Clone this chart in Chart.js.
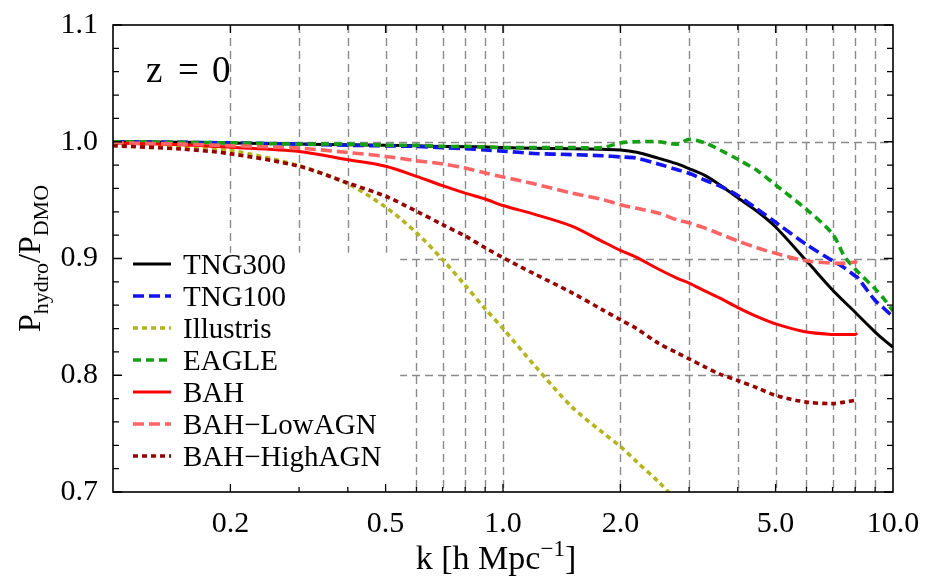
<!DOCTYPE html>
<html>
<head>
<meta charset="utf-8">
<script src="https://cdn.jsdelivr.net/npm/chart.js@4.4.0/dist/chart.umd.min.js"></script>
<style>
  html, body { margin: 0; padding: 0; background: #fff; }
  #wrap { position: relative; width: 926px; height: 583px; }
</style>
</head>
<body>
<div id="wrap"><canvas id="powerRatio"></canvas></div>
<script>
// k sampling [h/Mpc] shared by all curves
const kValues = [0.1, 0.15, 0.2, 0.3, 0.4, 0.5, 0.6, 0.7, 0.8, 0.9, 1.0, 1.2, 1.5, 1.8, 2.0, 2.2, 2.5, 2.8, 3.0, 3.3, 3.6, 4.0, 4.5, 5.0, 6.0, 7.0, 7.5, 8.0, 8.1, 9.0, 9.5, 10];

// P_hydro / P_DMO
const tng300    = [1.000, 0.9995, 0.999, 0.998, 0.9975, 0.997, 0.9965, 0.996, 0.9958, 0.9955, 0.995, 0.9945, 0.994, 0.9935, 0.993, 0.991, 0.986, 0.981, 0.977, 0.971, 0.963, 0.952, 0.940, 0.927, 0.898, 0.873, 0.863, 0.854, 0.852, 0.837, 0.830, 0.824];
const tng100    = [1.000, 0.9995, 0.999, 0.998, 0.997, 0.9965, 0.996, 0.995, 0.994, 0.993, 0.992, 0.990, 0.989, 0.988, 0.987, 0.986, 0.981, 0.976, 0.973, 0.967, 0.962, 0.954, 0.942, 0.931, 0.912, 0.898, 0.892, 0.885, 0.884, 0.864, 0.857, 0.850];
const illustris = [0.9975, 0.996, 0.9925, 0.9795, 0.964, 0.944, 0.922, 0.899, 0.877, 0.857, 0.840, 0.809, 0.773, 0.751, 0.739, 0.726, 0.709, 0.692, null, null, null, null, null, null, null, null, null, null, null, null, null, null];
const eagle     = [1.000, 0.9995, 0.999, 0.998, 0.998, 0.997, 0.997, 0.996, 0.996, 0.9955, 0.995, 0.995, 0.995, 0.995, 0.999, 1.000, 1.000, 0.998, 1.002, 0.999, 0.993, 0.985, 0.975, 0.963, 0.942, 0.921, 0.902, 0.891, 0.889, 0.874, 0.865, 0.855];
const bah       = [0.999, 0.9975, 0.9953, 0.9917, 0.9846, 0.979, 0.9704, 0.9624, 0.956, 0.951, 0.9454, 0.938, 0.9277, 0.9145, 0.907, 0.901, 0.891, 0.883, 0.879, 0.872, 0.866, 0.858, 0.850, 0.844, 0.837, 0.835, 0.835, 0.835, 0.836, null, null, null];
const bahLow    = [0.999, 0.998, 0.9966, 0.9945, 0.9908, 0.9874, 0.9838, 0.981, 0.9775, 0.9732, 0.9698, 0.964, 0.956, 0.9505, 0.946, 0.943, 0.939, 0.933, 0.9305, 0.926, 0.921, 0.915, 0.909, 0.9044, 0.898, 0.896, 0.896, 0.897, 0.897, null, null, null];
const bahHigh   = [0.9966, 0.9937, 0.9897, 0.979, 0.9647, 0.9533, 0.9405, 0.929, 0.9192, 0.9092, 0.9007, 0.887, 0.8708, 0.856, 0.8475, 0.840, 0.8275, 0.819, 0.814, 0.807, 0.801, 0.7955, 0.789, 0.7827, 0.777, 0.7757, 0.777, 0.7785, 0.779, null, null, null];

const seriesNames = ['TNG300', 'TNG100', 'Illustris', 'EAGLE', 'BAH', 'BAH\u2212LowAGN', 'BAH\u2212HighAGN'];
const seriesValues = [tng300, tng100, illustris, eagle, bah, bahLow, bahHigh];
const seriesColors = ['#000000', '#1414f0', '#b4b41e', '#14a014', '#ff0000', '#ff6464', '#960000'];
const seriesDash = [[], [11, 5], [5, 4], [8, 5], [], [11, 5], [5, 4]];

// axis ticks and grid
const xLabelled = [0.2, 0.5, 1, 2, 5, 10];
const xMinor = [0.2, 0.3, 0.4, 0.5, 0.6, 0.7, 0.8, 0.9, 1, 2, 3, 4, 5, 6, 7, 8, 9];
const yLabelled = [0.7, 0.8, 0.9, 1.0, 1.1];
const yMinor = [0.72, 0.74, 0.76, 0.78, 0.82, 0.84, 0.86, 0.88, 0.92, 0.94, 0.96, 0.98, 1.02, 1.04, 1.06, 1.08];
const gridK = [0.2, 0.3, 0.4, 0.5, 0.6, 0.7, 0.8, 0.9, 1, 2, 3, 4, 5, 6, 7, 8, 9];
const gridY = [0.8, 0.9, 1.0];
const legendCorner = { k: 0.545, v: 0.905 }; // grid lines stay out of the legend region

const serif = "'Liberation Serif', 'Times New Roman', serif";

const framePlugin = {
  id: 'frame',
  beforeDatasetsDraw(chart) {
    const { ctx, chartArea: a, scales: { x, y } } = chart;
    ctx.save();
    ctx.beginPath();
    ctx.rect(a.left, a.top, a.width, a.height);
    const lx = x.getPixelForValue(legendCorner.k);
    const ly = y.getPixelForValue(legendCorner.v);
    ctx.rect(a.left, ly, lx - a.left, a.bottom - ly);
    ctx.clip('evenodd');
    ctx.strokeStyle = '#8a8a8a';
    ctx.lineWidth = 1.4;
    ctx.setLineDash([8, 5]);
    gridK.forEach(k => {
      const px = Math.round(x.getPixelForValue(k)) + 0.5;
      ctx.beginPath(); ctx.moveTo(px, a.top); ctx.lineTo(px, a.bottom); ctx.stroke();
    });
    gridY.forEach(v => {
      const py = Math.round(y.getPixelForValue(v)) + 0.5;
      ctx.beginPath(); ctx.moveTo(a.left, py); ctx.lineTo(a.right, py); ctx.stroke();
    });
    ctx.restore();
  },
  afterDatasetsDraw(chart) {
    const { ctx, chartArea: a, scales: { x, y } } = chart;
    ctx.save();
    // inward frame ticks
    ctx.strokeStyle = '#000';
    ctx.lineWidth = 1.3;
    ctx.setLineDash([]);
    xMinor.forEach(k => {
      const px = x.getPixelForValue(k);
      const len = xLabelled.includes(k) ? 8 : 5;
      ctx.beginPath();
      ctx.moveTo(px, a.bottom); ctx.lineTo(px, a.bottom - len);
      ctx.moveTo(px, a.top); ctx.lineTo(px, a.top + len);
      ctx.stroke();
    });
    yLabelled.concat(yMinor).forEach(v => {
      const py = y.getPixelForValue(v);
      const len = yLabelled.includes(v) ? 9 : 6;
      ctx.beginPath();
      ctx.moveTo(a.left, py); ctx.lineTo(a.left + len, py);
      ctx.moveTo(a.right, py); ctx.lineTo(a.right - len, py);
      ctx.stroke();
    });
    ctx.lineWidth = 1.6;
    ctx.strokeRect(a.left, a.top, a.width, a.height);

    // legend
    ctx.font = '29px ' + serif;
    ctx.textAlign = 'left';
    ctx.textBaseline = 'alphabetic';
    chart.data.datasets.forEach((ds, i) => {
      const cy = 264 + i * 32;
      ctx.strokeStyle = ds.borderColor;
      ctx.lineWidth = ds.borderWidth;
      ctx.setLineDash(ds.borderDash);
      ctx.beginPath(); ctx.moveTo(133, cy); ctx.lineTo(171, cy); ctx.stroke();
      ctx.fillStyle = '#000';
      ctx.fillText(ds.label, 183, cy + 10);
    });

    // redshift label
    ctx.font = '37px ' + serif;
    ctx.fillStyle = '#000';
    ctx.fillText('z', 146, 82);
    ctx.fillText('=', 178, 82);
    ctx.fillText('0', 212, 82);
    ctx.restore();
  },
  afterDraw(chart) {
    const { ctx, chartArea: a } = chart;
    ctx.save();
    ctx.fillStyle = '#000';
    ctx.textBaseline = 'alphabetic';
    ctx.textAlign = 'left';
    // x title: k [h Mpc^-1]
    const big = '34px ' + serif, small = '23px ' + serif;
    ctx.font = big; const w1 = ctx.measureText('k [h Mpc').width;
    ctx.font = small; const w2 = ctx.measureText('\u22121').width;
    ctx.font = big; const w3 = ctx.measureText(']').width;
    let sx = 496 - (w1 + w2 + w3) / 2;
    const by = 569;
    ctx.font = big; ctx.fillText('k [h Mpc', sx, by); sx += w1;
    ctx.font = small; ctx.fillText('\u22121', sx, by - 13); sx += w2;
    ctx.font = big; ctx.fillText(']', sx, by);

    // y title: P_hydro / P_DMO
    const yBig = '32px ' + serif, ySmall = '22px ' + serif;
    const parts = [['P', yBig, 0], ['hydro', ySmall, 8], ['/P', yBig, 0], ['DMO', ySmall, 8]];
    let total = 0;
    parts.forEach(p => { ctx.font = p[1]; total += ctx.measureText(p[0]).width; });
    ctx.translate(40, (a.top + a.bottom) / 2);
    ctx.rotate(-Math.PI / 2);
    let tx = -total / 2;
    parts.forEach(p => {
      ctx.font = p[1];
      ctx.fillText(p[0], tx, p[2]);
      tx += ctx.measureText(p[0]).width;
    });
    ctx.restore();
  }
};

const datasets = seriesNames.map((name, i) => ({
  label: name,
  data: kValues.map((k, j) => ({ x: k, y: seriesValues[i][j] })),
  borderColor: seriesColors[i],
  borderDash: seriesDash[i],
  borderWidth: seriesDash[i].length ? 3.6 : 3,
  pointRadius: 0,
  fill: false,
  tension: 0.3,
  spanGaps: false,
  clip: 0,
  order: seriesNames.length - i
}));

new Chart(document.getElementById('powerRatio'), {
  type: 'line',
  data: { datasets },
  options: {
    responsive: true,
    maintainAspectRatio: false,
    animation: false,
    events: [],
    layout: { padding: { top: 24, right: 33, left: 0, bottom: 0 } },
    plugins: { legend: { display: false }, tooltip: { enabled: false } },
    scales: {
      x: {
        type: 'logarithmic',
        min: 0.1,
        max: 10,
        grid: { display: false },
        border: { display: false },
        afterBuildTicks: s => { s.ticks = xLabelled.map(v => ({ value: v })); },
        afterFit: s => { s.height = 91; },
        ticks: {
          autoSkip: false,
          maxRotation: 0,
          padding: 6,
          color: '#000',
          font: { family: serif, size: 30 },
          callback: v => Number(v).toFixed(1)
        }
      },
      y: {
        type: 'linear',
        min: 0.7,
        max: 1.1,
        grid: { display: false },
        border: { display: false },
        afterBuildTicks: s => { s.ticks = yLabelled.map(v => ({ value: v })); },
        afterFit: s => { s.width = 113; },
        ticks: {
          padding: 7,
          color: '#000',
          font: { family: serif, size: 30 },
          callback: v => Number(v).toFixed(1)
        }
      }
    }
  },
  plugins: [framePlugin]
});
</script>
</body>
</html>
